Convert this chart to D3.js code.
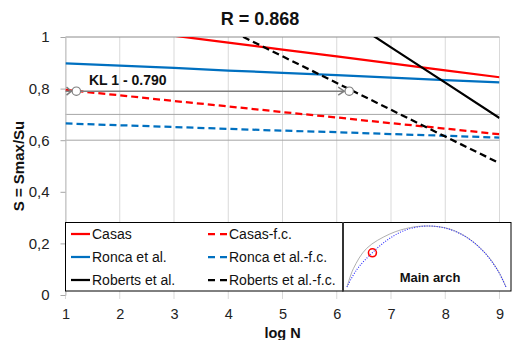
<!DOCTYPE html>
<html>
<head>
<meta charset="utf-8">
<script src="https://cdn.jsdelivr.net/npm/d3@7"></script>
<style>
  body { margin: 0; background: #fff; }
  text { font-family: "Liberation Sans", Arial, sans-serif; }
</style>
</head>
<body>
<svg id="chart" width="512" height="340"></svg>
<script>
// values
const logN = [1, 2, 3, 4, 5, 6, 7, 8, 9];
const casas = [1.059, 1.032, 1.005, 0.978, 0.951, 0.925, 0.898, 0.871, 0.844];
const ronca = [0.898, 0.889, 0.880, 0.870, 0.861, 0.852, 0.843, 0.833, 0.824];
const roberts = [1.78, 1.644, 1.507, 1.370, 1.233, 1.097, 0.960, 0.823, 0.686];
const casasFc = [0.795, 0.774, 0.752, 0.731, 0.709, 0.688, 0.666, 0.645, 0.623];
const roncaFc = [0.665, 0.658, 0.651, 0.644, 0.637, 0.631, 0.624, 0.617, 0.610];
const robertsFc = [1.340, 1.236, 1.133, 1.029, 0.925, 0.822, 0.718, 0.614, 0.511];
const yTicks = [0, 0.2, 0.4, 0.6, 0.8, 1];
const yTickLabels = ["0", "0,2", "0,4", "0,6", "0,8", "1"];
const refLines = [0.6, 0.7];
const klArrow = [[1.2, 0.79], [6.23, 0.79]];
// inset arch (normalised span / height)
const archBlue = [[0, 0], [0.06, 0.28], [0.157, 0.557], [0.27, 0.8], [0.375, 0.94], [0.509, 1.0], [0.64, 0.95], [0.76, 0.8], [0.87, 0.55], [0.95, 0.26], [1, 0]];
const archGray = [[0, 0], [0.04, 0.3], [0.124, 0.634], [0.27, 0.87], [0.4, 0.975], [0.509, 1.0], [0.64, 0.955], [0.76, 0.805], [0.87, 0.555], [0.95, 0.27], [1, 0]];
const archPoint = [0.16, 0.56];

const series = [
  { name: "Casas", values: casas, color: "#ff0000", dash: null },
  { name: "Casas-f.c.", values: casasFc, color: "#ff0000", dash: "7,4" },
  { name: "Ronca et al.", values: ronca, color: "#0070c0", dash: null },
  { name: "Ronca et al.-f.c.", values: roncaFc, color: "#0070c0", dash: "7,4" },
  { name: "Roberts et al.", values: roberts, color: "#000000", dash: null },
  { name: "Roberts et al.-f.c.", values: robertsFc, color: "#000000", dash: "7,4" },
];

const svg = d3.select("#chart");
const x = d3.scaleLinear().domain([1, 9]).range([65.5, 499.5]);
const y = d3.scaleLinear().domain([0, 1]).range([295, 37]);

svg.append("defs").append("clipPath").attr("id", "plotClip")
  .append("rect").attr("x", x(1)).attr("y", y(1)).attr("width", x(9) - x(1)).attr("height", y(0) - y(1));

// vertical grid + x ticks
svg.append("g")
  .selectAll("line")
  .data(logN)
  .enter()
  .append("line")
  .attr("x1", (d) => x(d)).attr("x2", (d) => x(d))
  .attr("y1", y(1)).attr("y2", y(0) + 4)
  .attr("stroke", "#d9d9d9").attr("stroke-width", 1);

// horizontal lines
svg.append("g")
  .selectAll("line")
  .data(refLines)
  .enter()
  .append("line")
  .attr("x1", x(1)).attr("x2", x(9))
  .attr("y1", (d) => y(d)).attr("y2", (d) => y(d))
  .attr("stroke", "#a6a6a6").attr("stroke-width", 1);
svg.append("line")
  .attr("x1", x(1)).attr("x2", x(9)).attr("y1", y(1)).attr("y2", y(1))
  .attr("stroke", "#8c8c8c").attr("stroke-width", 1);

// y axis
const yAxis = svg.append("g")
  .attr("transform", `translate(${x(1)},0)`)
  .call(d3.axisLeft(y).tickValues(yTicks).tickFormat((d, i) => yTickLabels[i]).tickSize(5).tickSizeOuter(0).tickPadding(11));
yAxis.select(".domain").attr("stroke", "#bfbfbf");
yAxis.selectAll(".tick line").attr("stroke", "#a6a6a6");
yAxis.selectAll("text").attr("font-size", 15).attr("fill", "#222")
  .style("font-family", '"Liberation Sans", Arial, sans-serif');

// x tick labels
const xAxis = svg.append("g")
  .attr("transform", `translate(0,${y(0)})`)
  .call(d3.axisBottom(x).tickValues(logN).tickFormat(d3.format("d")).tickSize(0).tickPadding(14));
xAxis.select(".domain").remove();
xAxis.selectAll("text").attr("font-size", 14.5).attr("fill", "#222")
  .style("font-family", '"Liberation Sans", Arial, sans-serif');

// series
const line = d3.line().x((d, i) => x(logN[i])).y((d) => y(d));
const plot = svg.append("g").attr("clip-path", "url(#plotClip)");
plot.selectAll("path")
  .data(series)
  .enter()
  .append("path")
  .attr("d", (d) => line(d.values))
  .attr("fill", "none")
  .attr("stroke", (d) => d.color)
  .attr("stroke-width", 2.25)
  .attr("stroke-dasharray", (d) => d.dash);

// KL arrow
const ax0 = x(klArrow[0][0]), ax1 = x(klArrow[1][0]), ay = y(klArrow[0][1]);
svg.append("line")
  .attr("x1", x(1)).attr("x2", ax1 - 5).attr("y1", ay).attr("y2", ay)
  .attr("stroke", "#7f7f7f").attr("stroke-width", 1.5);
svg.append("path")
  .attr("d", `M${ax1 - 11},${ay - 4}L${ax1 - 5},${ay}L${ax1 - 11},${ay + 4}`)
  .attr("fill", "none").attr("stroke", "#7f7f7f").attr("stroke-width", 1.5);
svg.append("path")
  .attr("d", `M${x(1) + 1},${ay - 4}L${ax0 - 5},${ay}L${x(1) + 1},${ay + 4}`)
  .attr("fill", "none").attr("stroke", "#7f7f7f").attr("stroke-width", 1.5);
svg.selectAll(".klpt")
  .data(klArrow)
  .enter()
  .append("circle")
  .attr("class", "klpt")
  .attr("cx", (d) => x(d[0])).attr("cy", (d) => y(d[1]))
  .attr("r", 4.2)
  .attr("fill", "#fff").attr("stroke", "#7f7f7f").attr("stroke-width", 1.2);
svg.append("text")
  .attr("x", 89).attr("y", 85)
  .attr("font-size", 14).attr("font-weight", "bold").attr("fill", "#111")
  .text("KL 1 - 0.790");

// legend box
svg.append("rect")
  .attr("x", 65.5).attr("y", 222.5).attr("width", 277).attr("height", 68.5)
  .attr("fill", "#fff").attr("stroke", "#000").attr("stroke-width", 1);
const legend = svg.append("g")
  .selectAll("g")
  .data(series)
  .enter()
  .append("g")
  .attr("transform", (d, i) => `translate(${i % 2 === 0 ? 71 : 208},${234 + Math.floor(i / 2) * 23})`);
legend.append("line")
  .attr("x1", 0).attr("x2", 19).attr("y1", 0).attr("y2", 0)
  .attr("stroke", (d) => d.color).attr("stroke-width", 2.25)
  .attr("stroke-dasharray", (d) => (d.dash ? "7,5" : null));
legend.append("text")
  .attr("x", 21).attr("dy", "0.36em")
  .attr("font-size", 14).attr("fill", "#111")
  .text((d) => d.name);

// inset
svg.append("rect")
  .attr("x", 343).attr("y", 222.5).attr("width", 168).attr("height", 68.5)
  .attr("fill", "#fff").attr("stroke", "#000").attr("stroke-width", 1);
svg.append("line")
  .attr("x1", 343).attr("x2", 343).attr("y1", 222).attr("y2", 291.5)
  .attr("stroke", "#333").attr("stroke-width", 2);
const ix = d3.scaleLinear().domain([0, 1]).range([347, 506]);
const iy = d3.scaleLinear().domain([0, 1]).range([287, 226]);
const arch = d3.line().x((d) => ix(d[0])).y((d) => iy(d[1])).curve(d3.curveCatmullRom);
svg.append("path").attr("d", arch(archGray))
  .attr("fill", "none").attr("stroke", "#b0b0b0").attr("stroke-width", 1);
svg.append("path").attr("d", arch(archBlue))
  .attr("fill", "none").attr("stroke", "#2a2aff").attr("stroke-width", 1.1)
  .attr("stroke-dasharray", "1,1.5");
svg.append("circle")
  .attr("cx", ix(archPoint[0])).attr("cy", iy(archPoint[1])).attr("r", 4)
  .attr("fill", "none").attr("stroke", "#ff0000").attr("stroke-width", 1.5);
svg.append("text")
  .attr("x", 430).attr("y", 281.5).attr("text-anchor", "middle")
  .attr("font-size", 13).attr("font-weight", "bold").attr("fill", "#111")
  .text("Main arch");

// titles
svg.append("text")
  .attr("x", 260).attr("y", 25).attr("text-anchor", "middle")
  .attr("font-size", 18).attr("font-weight", "bold").attr("fill", "#111")
  .text("R = 0.868");
svg.append("text")
  .attr("x", 282.5).attr("y", 337.5).attr("text-anchor", "middle")
  .attr("font-size", 14.5).attr("font-weight", "bold").attr("fill", "#111")
  .text("log N");
svg.append("text")
  .attr("transform", `translate(24,166) rotate(-90)`)
  .attr("text-anchor", "middle")
  .attr("font-size", 15).attr("font-weight", "bold").attr("fill", "#111")
  .text("S = Smax/Su");
</script>
</body>
</html>
